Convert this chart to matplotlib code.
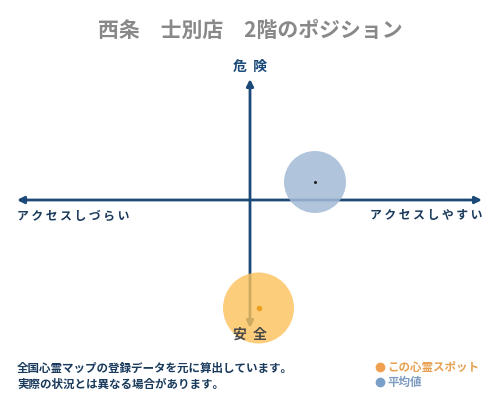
import matplotlib
matplotlib.use("Agg")
import matplotlib.pyplot as plt
from matplotlib.patches import Circle

plt.rcParams['font.family'] = ['Noto Sans CJK JP', 'DejaVu Sans']

# positions on the map (centre of the cross = 0,0)
spot_x, spot_y, spot_r = 8.5, -108, 35.5
avg_x, avg_y, avg_r = 65, 18, 31

title = "西条　士別店　2階のポジション"
label_top = "危  険"
label_bottom = "安  全"
label_left = "ア ク セ ス し づ ら い"
label_right = "ア ク セ ス し や す い"
notes = ["全国心霊マップの登録データを元に算出しています。",
         "実際の状況とは異なる場合があります。"]
legend_labels = ["この心霊スポット", "平均値"]

navy = "#1c4a78"
orange = "#fcc25a"
blue = "#a3bad6"

fig = plt.figure(figsize=(5, 4), dpi=100)
ax = fig.add_axes([0, 0, 1, 1])
ax.set_xlim(-250, 250)
ax.set_ylim(-200, 200)
ax.axis("off")

# axes arrows
ax.annotate("", xy=(-233, 0), xytext=(232, 0),
            arrowprops=dict(arrowstyle="<|-|>", color=navy, lw=2, mutation_scale=10, shrinkA=0, shrinkB=0))
ax.annotate("", xy=(0, 121), xytext=(0, -128),
            arrowprops=dict(arrowstyle="<|-|>", color=navy, lw=2, mutation_scale=10, shrinkA=0, shrinkB=0))

ax.add_patch(Circle((avg_x, avg_y), avg_r, color=blue, alpha=0.85, lw=0, zorder=3))
ax.plot(avg_x, avg_y, "o", color="#222222", ms=1.2, zorder=4)
ax.add_patch(Circle((spot_x, spot_y), spot_r, color=orange, alpha=0.8, lw=0, zorder=3))
ax.plot(spot_x, spot_y, "o", color="#f0a020", ms=3, zorder=4)

ax.text(0, 170, title, ha="center", va="center", fontsize=15, color="#888888", fontweight="bold")
ax.text(0, 133, label_top, ha="center", va="center", fontsize=10, color=navy, fontweight="bold")
ax.text(0, -135, label_bottom, ha="center", va="center", fontsize=10, color="#4a4a4a", fontweight="bold", zorder=5)
ax.text(-233, -16, label_left, ha="left", va="center", fontsize=8.5, color="#1a3a5c", fontweight="bold")
ax.text(232, -16, label_right, ha="right", va="center", fontsize=8.5, color="#1a3a5c", fontweight="bold")

ax.text(-233, -168, notes[0], ha="left", va="center", fontsize=8.3, color="#1a3a5c", fontweight="bold")
ax.text(-233, -184, notes[1], ha="left", va="center", fontsize=8.3, color="#1a3a5c", fontweight="bold")

ax.plot(130, -167, "o", color="#f0a050", ms=6)
ax.text(137, -167, legend_labels[0], ha="left", va="center", fontsize=8.3, color="#e8a050", fontweight="bold")
ax.plot(130, -182, "o", color="#7ba0c8", ms=6)
ax.text(137, -182, legend_labels[1], ha="left", va="center", fontsize=8.3, color="#7d9cc0", fontweight="bold")

fig.savefig("out.png", dpi=100)
